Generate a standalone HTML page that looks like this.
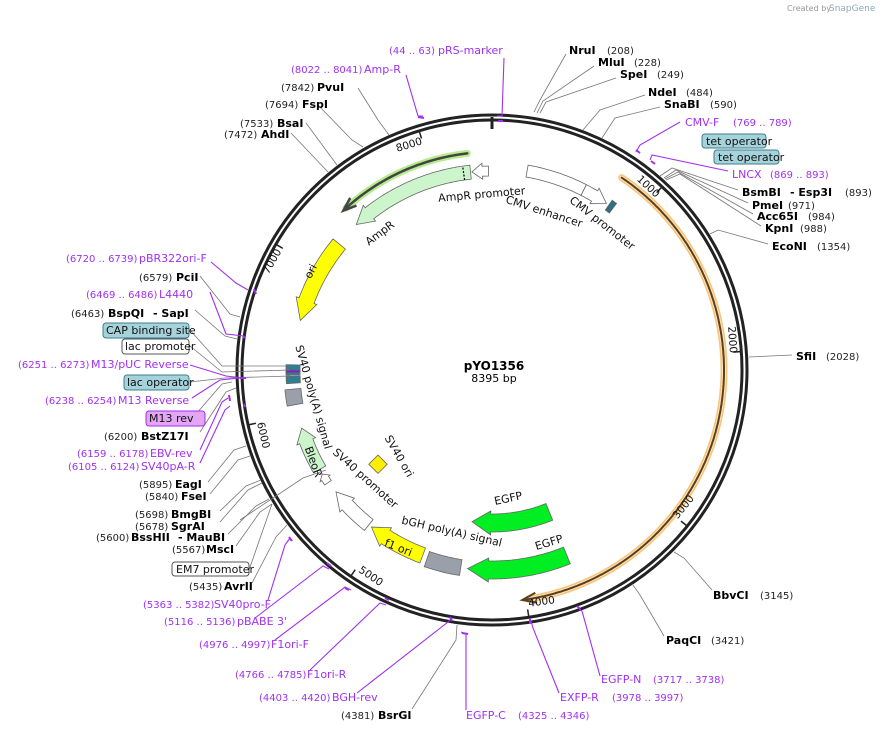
<!DOCTYPE html>
<html><head><meta charset="utf-8">
<style>
html,body{margin:0;padding:0;background:#fff;}
svg{display:block;font-family:"DejaVu Sans","Liberation Sans",sans-serif;}
.n{font-size:10px;fill:#222;}
.b{font-size:11px;font-weight:bold;fill:#000;}
.p{font-size:11px;fill:#a030f0;}
.pn{font-size:10px;fill:#a030f0;}
.f{font-size:11px;fill:#111;}
.t{font-size:10.5px;fill:#111;}
.g{stroke:#777;stroke-width:0.8;fill:none;}
.pl{stroke:#a030f0;stroke-width:1.1;fill:none;}
</style></head><body>
<svg id="s" width="884" height="731" viewBox="0 0 884 731" xmlns="http://www.w3.org/2000/svg">
<text x="787" y="11" style="font-size:8px;fill:#999">Created by</text>
<text x="829" y="11" style="font-size:9px;fill:#8ab">SnapGene</text>

<!-- ring -->
<circle cx="492" cy="370" r="255" fill="none" stroke="#222" stroke-width="3"/>
<circle cx="492" cy="370" r="250" fill="none" stroke="#222" stroke-width="3"/>
<line x1="492" y1="117" x2="492" y2="129" stroke="#222" stroke-width="3"/>
<g id="dyn"></g>

<!-- tick labels -->
<text class="t" transform="translate(410,148) rotate(-17)" text-anchor="middle">8000</text>
<text class="t" transform="translate(646,189) rotate(43)" text-anchor="middle">1000</text>
<text class="t" transform="translate(729,340) rotate(86)" text-anchor="middle">2000</text>
<text class="t" transform="translate(686,509) rotate(-51)" text-anchor="middle">3000</text>
<text class="t" transform="translate(542,605) rotate(-8)" text-anchor="middle">4000</text>
<text class="t" transform="translate(369,579) rotate(34)" text-anchor="middle">5000</text>
<text class="t" transform="translate(260,436) rotate(77)" text-anchor="middle">6000</text>
<text class="t" transform="translate(275,263) rotate(-60)" text-anchor="middle">7000</text>

<!-- center -->
<text x="494" y="370" text-anchor="middle" style="font-size:12px;font-weight:bold">pYO1356</text>
<text x="494" y="382" text-anchor="middle" style="font-size:11px">8395 bp</text>

<!-- feature labels -->
<text class="f" transform="translate(482,198) rotate(-5)" text-anchor="middle">AmpR promoter</text>
<text class="f" transform="translate(382,236) rotate(-37)" text-anchor="middle">AmpR</text>
<text class="f" transform="translate(543,215) rotate(18)" text-anchor="middle">CMV enhancer</text>
<text class="f" transform="translate(600,226) rotate(38)" text-anchor="middle">CMV promoter</text>
<text class="f" transform="translate(314,273) rotate(-62)" text-anchor="middle">ori</text>
<text class="f" transform="translate(310,398) rotate(74)" text-anchor="middle">SV40 poly(A) signal</text>
<text class="f" transform="translate(310,463) rotate(70)" text-anchor="middle">BleoR</text>
<text class="f" transform="translate(363,481) rotate(42)" text-anchor="middle">SV40 promoter</text>
<text class="f" transform="translate(396,458) rotate(60)" text-anchor="middle">SV40 ori</text>
<text class="f" transform="translate(397,551) rotate(22)" text-anchor="middle">f1 ori</text>
<text class="f" transform="translate(451,535) rotate(13)" text-anchor="middle">bGH poly(A) signal</text>
<text class="f" transform="translate(509,502) rotate(-12)" text-anchor="middle">EGFP</text>
<text class="f" transform="translate(550,546) rotate(-17)" text-anchor="middle">EGFP</text>
<rect x="371" y="458" width="13" height="13" fill="#ffee00" stroke="#666" stroke-width="0.8" transform="rotate(45 378 465)"/>

<!-- leader lines (gray) -->
<g class="g">
<polyline points="534,112 540,100 566,54"/>
<polyline points="537,113 543,101 594,66"/>
<polyline points="540,113 546,102 616,78"/>
<polyline points="583,130 600,110 645,95"/>
<polyline points="602,138 615,118 660,107"/>
<polyline points="660,176 672,168 738,190"/>
<polyline points="664,178 676,170 748,203"/>
<polyline points="665,179 678,172 753,214"/>
<polyline points="666,180 680,174 761,226"/>
<polyline points="710,234 718,230 768,244"/>
<line x1="749" y1="357" x2="792" y2="355"/>
<polyline points="674,552 684,558 712,590"/>
<polyline points="633,585 640,595 664,636"/>
<polyline points="457,625 456,640 412,709"/>
<polyline points="287,525 276,537 252,583"/>
<polyline points="249,570 272,504"/>
<polyline points="272,504 260,512 236,546"/>
<polyline points="269,499 256,506 228,534"/>
<polyline points="262,483 248,490 220,522"/>
<polyline points="261,480 246,486 220,511"/>
<polyline points="250,456 238,460 210,494"/>
<polyline points="246,446 234,450 208,482"/>
<polyline points="236,388 226,392 200,432"/>
<polyline points="232,382 222,384 196,414"/>
<polyline points="190,382 225,378 290,376"/>
<polyline points="190,346 222,372 290,370"/>
<polyline points="190,330 222,366 290,366"/>
<polyline points="195,310 225,336 237,339"/>
<polyline points="200,276 230,314 240,317"/>
<polyline points="291,133 328,172"/>
<polyline points="306,123 337,165"/>
<polyline points="318,105 352,140 363,147"/>
<polyline points="358,88 378,120 389,135"/>
<polyline points="326,470 303,478 240,520"/>
</g>
<!-- leader lines (purple) -->
<g class="pl">
<polyline points="504,58 502,116 497,116"/>
<polyline points="406,75 418,116 423,116"/>
<polyline points="680,122 640,145 636,152"/>
<polyline points="650,160 652,155 728,171"/>
<polyline points="600,676 582,611 578,608"/>
<polyline points="559,693 533,628 530,618"/>
<polyline points="466,710 466,634 461,632"/>
<polyline points="357,693 448,622 452,618"/>
<polyline points="310,670 380,603 386,605"/>
<polyline points="275,640 345,587 351,590"/>
<polyline points="255,618 323,566 329,569"/>
<polyline points="268,600 285,545 290,538"/>
<polyline points="200,463 225,410 230,406"/>
<polyline points="200,450 222,402 228,398"/>
<polyline points="192,398 220,380 240,378"/>
<polyline points="190,365 226,376 243,378"/>
<polyline points="210,292 226,334 244,336"/>
<polyline points="211,262 236,283 248,290"/>
</g>
<!-- markers -->
<g stroke="#a030f0" stroke-width="2">
<line x1="498" y1="121" x2="503" y2="121"/><line x1="418" y1="117" x2="424" y2="118"/>
<line x1="636" y1="150" x2="640" y2="153"/><line x1="651" y1="161" x2="655" y2="164"/>
<line x1="254" y1="289" x2="256" y2="294"/><line x1="243" y1="336" x2="245" y2="338"/>
<line x1="240" y1="378" x2="246" y2="378"/><line x1="229" y1="395" x2="230" y2="401"/>
<line x1="244" y1="404" x2="245" y2="407"/><line x1="289" y1="537" x2="292" y2="541"/>
<line x1="327" y1="563" x2="331" y2="566"/><line x1="345" y1="588" x2="349" y2="590"/>
<line x1="385" y1="598" x2="389" y2="600"/><line x1="450" y1="617" x2="452" y2="621"/>
<line x1="462" y1="633" x2="468" y2="634"/><line x1="530" y1="618" x2="530" y2="624"/>
<line x1="577" y1="606" x2="580" y2="609"/>
</g>

<!-- labels -->
<text x="389" y="54" class="pn">(44 .. 63)</text><text x="438" y="54" class="p">pRS-marker</text>
<text x="569" y="54" class="b">NruI</text><text x="607" y="54" class="n">(208)</text>
<text x="598" y="66" class="b">MluI</text><text x="634" y="66" class="n">(228)</text>
<text x="620" y="78" class="b">SpeI</text><text x="657" y="78" class="n">(249)</text>
<text x="648" y="96" class="b">NdeI</text><text x="686" y="96" class="n">(484)</text>
<text x="664" y="108" class="b">SnaBI</text><text x="710" y="108" class="n">(590)</text>
<text x="685" y="126" class="p">CMV-F</text><text x="733" y="126" class="pn">(769 .. 789)</text>
<rect x="702" y="134" width="64" height="14" rx="3" fill="#a6d2db" stroke="#3d7f8c"/><text x="706" y="145" class="f">tet operator</text>
<rect x="714" y="150" width="65" height="14" rx="3" fill="#a6d2db" stroke="#3d7f8c"/><text x="718" y="161" class="f">tet operator</text>
<text x="732" y="178" class="p">LNCX</text><text x="770" y="178" class="pn">(869 .. 893)</text>
<text x="742" y="196" class="b">BsmBI</text><text x="790" y="196" class="b">- Esp3I</text><text x="845" y="196" class="n">(893)</text>
<text x="752" y="209" class="b">PmeI</text><text x="788" y="209" class="n">(971)</text>
<text x="757" y="220" class="b">Acc65I</text><text x="808" y="220" class="n">(984)</text>
<text x="765" y="232" class="b">KpnI</text><text x="800" y="232" class="n">(988)</text>
<text x="772" y="250" class="b">EcoNI</text><text x="817" y="250" class="n">(1354)</text>
<text x="796" y="360" class="b">SfiI</text><text x="826" y="360" class="n">(2028)</text>
<text x="713" y="599" class="b">BbvCI</text><text x="760" y="599" class="n">(3145)</text>
<text x="666" y="644" class="b">PaqCI</text><text x="711" y="644" class="n">(3421)</text>
<text x="601" y="683" class="p">EGFP-N</text><text x="653" y="683" class="pn">(3717 .. 3738)</text>
<text x="560" y="701" class="p">EXFP-R</text><text x="612" y="701" class="pn">(3978 .. 3997)</text>
<text x="466" y="719" class="p">EGFP-C</text><text x="518" y="719" class="pn">(4325 .. 4346)</text>
<text x="341" y="719" class="n">(4381)</text><text x="378" y="719" class="b">BsrGI</text>
<text x="259" y="701" class="pn">(4403 .. 4420)</text><text x="332" y="701" class="p">BGH-rev</text>
<text x="235" y="678" class="pn">(4766 .. 4785)</text><text x="307" y="678" class="p">F1ori-R</text>
<text x="199" y="648" class="pn">(4976 .. 4997)</text><text x="271" y="648" class="p">F1ori-F</text>
<text x="164" y="625" class="pn">(5116 .. 5136)</text><text x="237" y="625" class="p">pBABE 3'</text>
<text x="143" y="608" class="pn">(5363 .. 5382)</text><text x="214" y="608" class="p">SV40pro-F</text>
<text x="189" y="590" class="n">(5435)</text><text x="224" y="590" class="b">AvrII</text>
<rect x="172" y="562" width="77" height="14" rx="3" fill="#fff" stroke="#555"/><text x="176" y="573" class="f">EM7 promoter</text>
<text x="172" y="553" class="n">(5567)</text><text x="206" y="553" class="b">MscI</text>
<text x="96" y="541" class="n">(5600)</text><text x="131" y="541" class="b">BssHII</text><text x="178" y="541" class="b">- MauBI</text>
<text x="135" y="530" class="n">(5678)</text><text x="171" y="530" class="b">SgrAI</text>
<text x="135" y="518" class="n">(5698)</text><text x="171" y="518" class="b">BmgBI</text>
<text x="145" y="500" class="n">(5840)</text><text x="181" y="500" class="b">FseI</text>
<text x="139" y="488" class="n">(5895)</text><text x="175" y="488" class="b">EagI</text>
<text x="68" y="470" class="pn">(6105 .. 6124)</text><text x="141" y="470" class="p">SV40pA-R</text>
<text x="77" y="457" class="pn">(6159 .. 6178)</text><text x="150" y="457" class="p">EBV-rev</text>
<text x="104" y="440" class="n">(6200)</text><text x="141" y="440" class="b">BstZ17I</text>
<rect x="146" y="411" width="59" height="15" rx="3" fill="#e3a6f5" stroke="#a030f0"/><text x="149" y="422" class="f">M13 rev</text>
<text x="45" y="404" class="pn">(6238 .. 6254)</text><text x="118" y="404" class="p">M13 Reverse</text>
<rect x="124" y="375" width="65" height="15" rx="3" fill="#a6d2db" stroke="#3d7f8c"/><text x="127" y="386" class="f">lac operator</text>
<text x="18" y="368" class="pn">(6251 .. 6273)</text><text x="91" y="368" class="p">M13/pUC Reverse</text>
<rect x="122" y="339" width="67" height="15" rx="3" fill="#fff" stroke="#555"/><text x="125" y="350" class="f">lac promoter</text>
<rect x="103" y="323" width="86" height="15" rx="3" fill="#a6d2db" stroke="#3d7f8c"/><text x="106" y="334" class="f">CAP binding site</text>
<text x="71" y="317" class="n">(6463)</text><text x="108" y="317" class="b">BspQI</text><text x="153" y="317" class="b">- SapI</text>
<text x="86" y="298" class="pn">(6469 .. 6486)</text><text x="159" y="298" class="p">L4440</text>
<text x="139" y="281" class="n">(6579)</text><text x="176" y="281" class="b">PciI</text>
<text x="66" y="262" class="pn">(6720 .. 6739)</text><text x="139" y="262" class="p">pBR322ori-F</text>
<text x="224" y="138" class="n">(7472)</text><text x="261" y="138" class="b">AhdI</text>
<text x="240" y="127" class="n">(7533)</text><text x="277" y="127" class="b">BsaI</text>
<text x="265" y="108" class="n">(7694)</text><text x="302" y="108" class="b">FspI</text>
<text x="281" y="91" class="n">(7842)</text><text x="317" y="91" class="b">PvuI</text>
<text x="291" y="73" class="pn">(8022 .. 8041)</text><text x="364" y="73" class="p">Amp-R</text>
</svg>
<script>
(function(){
var cx=492,cy=370,NS="http://www.w3.org/2000/svg",g=document.getElementById("dyn");
function P(a,r){var t=a*Math.PI/180;return [cx+r*Math.sin(t),cy-r*Math.cos(t)];}
function arcPts(a1,a2,r){var n=Math.max(2,Math.ceil(Math.abs(a2-a1)*2)),o=[];for(var i=0;i<=n;i++){o.push(P(a1+(a2-a1)*i/n,r));}return o;}
function add(tag,attrs){var e=document.createElementNS(NS,tag);for(var k in attrs)e.setAttribute(k,attrs[k]);g.appendChild(e);return e;}
function str(pts){return pts.map(function(p){return p[0].toFixed(1)+","+p[1].toFixed(1);}).join(" ");}
function feat(tail,tip,r,w,h,fill,e){
  e=(e===undefined)?3:e;var s=tip>tail?1:-1,b=tip-s*h;var pts=[];
  if(h<=0){b=tip;pts=arcPts(tail,b,r+w/2).concat(arcPts(b,tail,r-w/2));}
  else{pts=arcPts(tail,b,r+w/2);pts.push(P(b,r+w/2+e));pts.push(P(tip,r));pts.push(P(b,r-w/2-e));pts=pts.concat(arcPts(b,tail,r-w/2));}
  add("polygon",{points:str(pts),fill:fill,stroke:"#666","stroke-width":"0.8"});
}
function line(a1,a2,r,col,w,op){add("polyline",{points:str(arcPts(a1,a2,r)),fill:"none",stroke:col,"stroke-width":w,"stroke-linecap":"round","stroke-opacity":op||1});}
for(var k=1;k<=8;k++){var a=k*1000*360/8395;var p1=P(a,249),p2=P(a,242);add("line",{x1:p1[0],y1:p1[1],x2:p2[0],y2:p2[1],stroke:"#222","stroke-width":"1.5"});}
line(34,171,232,"#f7c47a",7);line(34,172,232,"#fde3b8",4);line(34,171.5,232,"#5a4020",2);
var t=P(172.5,232),q1=P(169,237),q2=P(169,227);
add("polyline",{points:str([q1,t,q2]),fill:"none",stroke:"#5a4020","stroke-width":"2"});
line(-42,-6.5,218,"#b6ec8e",7);line(-42,-6.5,218,"#444",2.5);
t=P(-43,218);q1=P(-39.5,223);q2=P(-39.5,213);
add("polyline",{points:str([q1,t,q2]),fill:"none",stroke:"#444","stroke-width":"2.5"});
feat(-6.2,-43,199,14,5,"#ccf5cc");
var d1=P(-8.2,192),d2=P(-8.2,206);add("line",{x1:d1[0],y1:d1[1],x2:d2[0],y2:d2[1],stroke:"#000","stroke-width":"1.2","stroke-dasharray":"2,1.5"});
feat(-1,-5.8,199,10,3,"#fff");
feat(10,27,202,12,0,"#fff");feat(27,34.5,202,12,4,"#fff");
feat(35.3,36.8,202,12,0,"#2e6e80");
feat(-50.5,-75.5,198,16,6,"#ffff00");
feat(-88.5,-91.5,199,14,0,"#2e7f94");feat(-91.8,-93.8,199,14,0,"#2e7f94");
feat(-90,-90.8,199,14,0,"#7a1fd0");
feat(-95.5,-100,200,16,0,"#9aa0aa");
feat(240,253,199,14,4,"#ccf5cc");
feat(235.5,238.5,199,8,1.5,"#fff",2);
feat(218.5,232,198,14,5,"#fff");
feat(200.5,217.5,198,16,5,"#ffff00");
feat(189,199,200,16,0,"#9aa0aa");
feat(158,187,200,18,6,"#00ee22");
feat(158,187.5,153,18,7,"#00ee22");
})();
</script>
</body></html>
